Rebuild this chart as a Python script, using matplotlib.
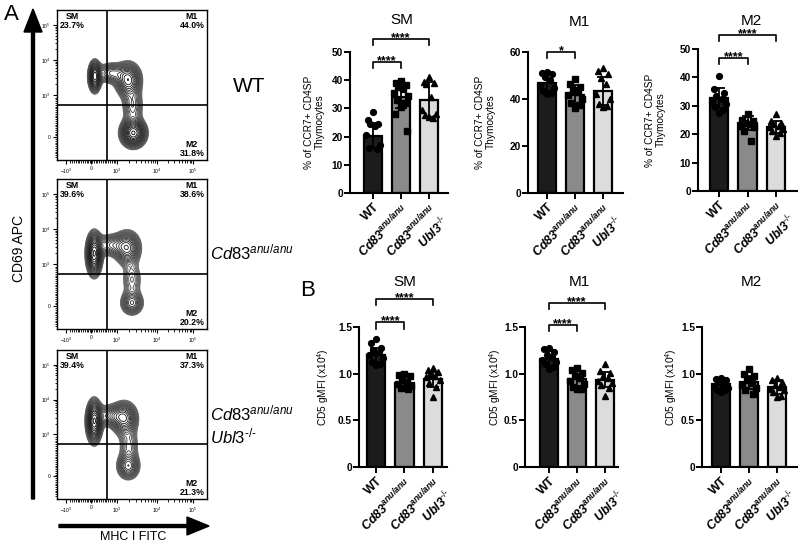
import numpy as np
import matplotlib
matplotlib.use("Agg")
import matplotlib.pyplot as plt
from matplotlib.patches import FancyArrow

plt.rcParams['font.family'] = ['Liberation Sans', 'DejaVu Sans']
plt.rcParams['mathtext.fontset'] = 'custom'
plt.rcParams['mathtext.rm'] = 'Liberation Sans'
plt.rcParams['mathtext.it'] = 'Liberation Sans:italic'
plt.rcParams['mathtext.bf'] = 'Liberation Sans:bold'
plt.rcParams['mathtext.sf'] = 'Liberation Sans:bold:italic'

# ---- data ----
samples = ["WT", "Cd83 anu/anu", "Cd83 anu/anu Ubl3-/-"]
quad_names = ["SM", "M1", "M2"]
quad_pct = [[23.7, 44.0, 31.8],
            [39.6, 38.6, 20.2],
            [39.4, 37.3, 21.3]]

# density blobs for the contour plots: (x, y, sx, sy, weight) in plot units
wt_blobs = [(0.252, 0.557, 0.023, 0.055, 1.0), (0.36, 0.58, 0.05, 0.038, 0.45),
            (0.475, 0.535, 0.047, 0.062, 0.8), (0.505, 0.36, 0.04, 0.07, 0.35),
            (0.509, 0.18, 0.045, 0.05, 1.2)]
cd83_blobs = [(0.248, 0.50, 0.028, 0.075, 1.4), (0.36, 0.56, 0.06, 0.042, 0.45),
              (0.47, 0.54, 0.048, 0.062, 0.8), (0.50, 0.33, 0.04, 0.07, 0.3),
              (0.50, 0.173, 0.042, 0.045, 0.6)]
ubl3_blobs = [(0.248, 0.52, 0.028, 0.075, 1.4), (0.36, 0.56, 0.06, 0.042, 0.45),
              (0.45, 0.54, 0.048, 0.062, 0.8), (0.48, 0.36, 0.04, 0.07, 0.3),
              (0.475, 0.22, 0.042, 0.05, 0.65)]

pct_mean = {"SM": [20.3, 34.0, 33.0], "M1": [46.7, 41.8, 43.5], "M2": [32.6, 24.0, 22.6]}
pct_sd = {"SM": [4.5, 4.0, 6.2], "M1": [3.5, 4.0, 6.0], "M2": [3.5, 2.5, 2.2]}
pct_pts = {
    "SM": [[28.8, 26.0, 24.6, 24.3, 23.8, 20.5, 17.0, 16.0, 15.5],
           [39.8, 39.0, 38.2, 37.5, 36.8, 35.5, 34.5, 33.0, 32.0, 30.5, 28.0, 22.0],
           [41.0, 39.5, 39.0, 38.5, 34.0, 29.5, 28.0, 27.5, 26.5, 27.0]],
    "M1": [[51.5, 51.0, 50.5, 49.5, 48.0, 46.0, 44.5, 43.5, 42.5, 42.0],
           [48.5, 46.5, 45.0, 44.0, 43.0, 41.5, 40.0, 38.5, 37.5, 36.0],
           [53.0, 52.0, 50.5, 49.0, 46.5, 42.0, 40.0, 38.0, 37.0, 36.5]],
    "M2": [[40.5, 36.0, 34.5, 33.5, 32.5, 31.5, 30.5, 29.5, 28.5, 27.5],
           [27.0, 25.0, 24.5, 24.0, 23.5, 23.0, 22.5, 21.0, 17.5],
           [27.0, 24.5, 24.0, 23.5, 23.0, 22.5, 22.0, 21.0, 20.5, 19.5]],
}
cd5_mean = {"SM": [1.20, 0.90, 0.94], "M1": [1.16, 0.946, 0.936], "M2": [0.886, 0.91, 0.857]}
cd5_sd = {"SM": [0.08, 0.07, 0.08], "M1": [0.08, 0.08, 0.08], "M2": [0.05, 0.07, 0.07]}
cd5_pts = {
    "SM": [[1.37, 1.33, 1.27, 1.25, 1.23, 1.20, 1.17, 1.13, 1.10, 1.09],
           [1.00, 0.99, 0.97, 0.93, 0.91, 0.89, 0.87, 0.85, 0.84],
           [1.06, 1.04, 1.02, 1.00, 0.98, 0.96, 0.93, 0.90, 0.86, 0.75]],
    "M1": [[1.27, 1.26, 1.23, 1.20, 1.18, 1.15, 1.12, 1.10, 1.07, 1.05],
           [1.06, 1.04, 1.01, 0.98, 0.95, 0.92, 0.89, 0.86, 0.84, 0.84],
           [1.10, 1.03, 1.01, 0.98, 0.95, 0.92, 0.90, 0.88, 0.85, 0.76]],
    "M2": [[0.95, 0.94, 0.93, 0.91, 0.89, 0.87, 0.85, 0.83, 0.82, 0.80],
           [1.05, 1.00, 0.97, 0.93, 0.90, 0.88, 0.85, 0.82, 0.78],
           [0.95, 0.93, 0.91, 0.88, 0.86, 0.84, 0.82, 0.80, 0.76, 0.75]],
}
pct_sig = {"SM": [(0, 1, "****"), (0, 2, "****")], "M1": [(0, 1, "*")],
           "M2": [(0, 1, "****"), (0, 2, "****")]}
cd5_sig = {"SM": [(0, 1, "****"), (0, 2, "****")], "M1": [(0, 1, "****"), (0, 2, "****")],
           "M2": []}

# ---- figure ----
W, H = 800, 546
fig = plt.figure(figsize=(8, 5.46), dpi=100)


def px(l, t, r, b):
    return [l / W, 1 - b / H, (r - l) / W, (b - t) / H]


bg = fig.add_axes([0, 0, 1, 1])
bg.set_xlim(0, W)
bg.set_ylim(H, 0)
bg.axis('off')

# ---- panel A: contour plots ----
flow_boxes = [(57, 10, 207, 160), (57, 179, 207, 329), (57, 350, 207, 499)]
all_blobs = [wt_blobs, cd83_blobs, ubl3_blobs]
gx, gy = np.meshgrid(np.linspace(0, 1, 260), np.linspace(0, 1, 260))

fx_major = [0.06, 0.227, 0.4, 0.667, 0.907]
fx_lab = ['$-10^3$', '0', '$10^3$', '$10^4$', '$10^5$']
fy_major = [0.153, 0.433, 0.667, 0.9]
fy_lab = ['0', '$10^3$', '$10^4$', '$10^5$']
dec = np.log10(np.arange(2, 10))
fx_minor = list(np.arange(0.09, 0.39, 0.012)) + list(0.4 + 0.267 * dec) + list(0.667 + 0.24 * dec)
fy_minor = list(np.arange(0.02, 0.42, 0.012)) + list(0.433 + 0.234 * dec) + list(0.667 + 0.233 * dec)

for i, (bx, blobs) in enumerate(zip(flow_boxes, all_blobs)):
    ax = fig.add_axes(px(*bx))
    ax.set_facecolor('none')
    z = np.zeros_like(gx)
    for cx, cy, sx, sy, w in blobs:
        z += w * np.exp(-((gx - cx) ** 2 / (2 * sx ** 2) + (gy - cy) ** 2 / (2 * sy ** 2)))
    lv = np.geomspace(0.08, 0.97, 22) * z.max()
    cols = [str(c) for c in np.linspace(0.4, 0.0, len(lv))]
    ax.contour(gx, gy, z, levels=lv, colors=cols, linewidths=0.6)
    ax.axvline(0.333, color='k', lw=1.2)
    ax.axhline(0.37, color='k', lw=1.2)
    ax.set_xlim(0, 1)
    ax.set_ylim(0, 1)
    ax.set_xticks(fx_major)
    ax.set_xticklabels(fx_lab)
    ax.set_yticks(fy_major)
    ax.set_yticklabels(fy_lab)
    ax.set_xticks(fx_minor, minor=True)
    ax.set_yticks(fy_minor, minor=True)
    ax.tick_params(which='major', labelsize=3.6, length=3, width=0.8, pad=1.5)
    ax.tick_params(which='minor', length=1.8, width=0.6)
    for s in ax.spines.values():
        s.set_linewidth(1.0)
    p = quad_pct[i]
    ax.text(0.1, 0.985, "SM\n%.1f%%" % p[0], transform=ax.transAxes, ha='center', va='top',
            fontsize=6.3, fontweight='bold', linespacing=0.9)
    ax.text(0.9, 0.985, "M1\n%.1f%%" % p[1], transform=ax.transAxes, ha='center', va='top',
            fontsize=6.3, fontweight='bold', linespacing=0.9)
    ax.text(0.9, 0.015, "M2\n%.1f%%" % p[2], transform=ax.transAxes, ha='center', va='bottom',
            fontsize=6.3, fontweight='bold', linespacing=0.9)

bg.add_patch(FancyArrow(33, 499, 0, -490, width=3, head_width=18, head_length=23,
                        length_includes_head=True, color='k'))
bg.add_patch(FancyArrow(59, 526, 150, 0, width=3, head_width=18, head_length=22,
                        length_includes_head=True, color='k'))
bg.text(11, 15, "A", fontsize=16, ha='center', va='center')
bg.text(308, 290, "B", fontsize=16, ha='center', va='center')
bg.text(19, 248, "CD69 APC", fontsize=10, rotation=90, ha='center', va='center')
bg.text(133, 537, "MHC I FITC", fontsize=9, ha='center', va='center')
bg.text(233, 87, "WT", fontsize=15, ha='left', va='center')
bg.text(210, 252, r"$\mathit{Cd83}^{anu/anu}$", fontsize=12, ha='left', va='center')
bg.text(210, 425, r"$\mathit{Cd83}^{anu/anu}$" + "\n" + r"$\mathit{Ubl3}^{\text{-/-}}$",
        fontsize=12, ha='left', va='center', linespacing=1.2)

# ---- bar charts ----
bar_cols = ['#1c1c1c', '#8a8a8a', '#dcdcdc']
markers = ['o', 's', '^']
jit = [0.0, -0.18, 0.18, -0.09, 0.09, -0.24, 0.24, -0.13, 0.13, 0.0, -0.2, 0.2]
xlab = ["WT", r"$\mathsf{Cd83}^{\mathsf{anu/anu}}$",
        r"$\mathsf{Cd83}^{\mathsf{anu/anu}}$" + "\n" + r"$\mathsf{Ubl3}^{\text{-/-}}$"]

# key, row, box (px), xlim, ymax, title pos, ylabel pos, bracket levels (inner, outer)
layout = [
    ("SM", 0, (350, 52, 448, 193), (-0.82, 2.68), 50, (402, 20), (314, 122), (46.5, 54.6)),
    ("M1", 0, (528, 52, 623, 193), (-0.68, 2.71), 60, (579, 22), (485, 122), (60.0, 70.0)),
    ("M2", 0, (698, 49, 797, 191), (-0.74, 2.74), 50, (751, 21), (655, 120), (46.8, 54.9)),
    ("SM", 1, (359, 327, 447, 467), (-0.6, 2.5), 1.5, (405, 282), (323, 387), (1.55, 1.80)),
    ("M1", 1, (525, 327, 618, 467), (-0.86, 2.46), 1.5, (579, 282), (495, 387), (1.52, 1.76)),
    ("M2", 1, (702, 327, 797, 467), (-0.68, 2.71), 1.5, (751, 282), (671, 387), (1.5, 1.8)),
]

for key, row, bx, xl, ymax, tpos, lpos, blev in layout:
    ax = fig.add_axes(px(*bx))
    ax.set_facecolor('none')
    if row == 0:
        means, sds, pts, sigs = pct_mean[key], pct_sd[key], pct_pts[key], pct_sig[key]
        yt = [0, 20, 40, 60] if ymax == 60 else [0, 10, 20, 30, 40, 50]
        ytl = [str(v) for v in yt]
        ylab = "% of CCR7+ CD4SP\nThymocytes"
    else:
        means, sds, pts, sigs = cd5_mean[key], cd5_sd[key], cd5_pts[key], cd5_sig[key]
        yt = [0, 0.5, 1.0, 1.5]
        ytl = ['0', '0.5', '1.0', '1.5']
        ylab = "CD5 gMFI (x10$^4$)"
    x = np.arange(3)
    ax.bar(x, means, width=0.64, color=bar_cols, edgecolor='k', linewidth=1.6, zorder=2)
    for j in range(3):
        n = len(pts[j])
        ax.plot(x[j] + np.array(jit[:n]), pts[j], ls='none', marker=markers[j], ms=4.2,
                color='k', mec='k', zorder=3)
    ax.errorbar(x, means, yerr=sds, fmt='none', ecolor='k', elinewidth=1.3, capsize=4,
                capthick=1.3, zorder=4)
    ax.set_xlim(*xl)
    ax.set_ylim(0, ymax)
    ax.set_yticks(yt)
    ax.set_yticklabels(ytl, fontweight='bold')
    ax.set_xticks(x)
    ax.set_xticklabels(xlab, rotation=45, ha='right', va='top', rotation_mode='anchor',
                       fontsize=9, fontweight='bold', linespacing=1.0)
    ax.tick_params(axis='y', labelsize=7.3, length=4, width=1.4, pad=1)
    ax.tick_params(axis='x', length=4, width=1.4, pad=2)
    for s in ['top', 'right']:
        ax.spines[s].set_visible(False)
    for s in ['left', 'bottom']:
        ax.spines[s].set_linewidth(1.5)
    drop = ymax * 0.045
    for (a, b, txt), lev in zip(sigs, blev):
        ax.plot([a, a, b, b], [lev - drop, lev, lev, lev - drop], color='k', lw=1.2,
                clip_on=False)
        ax.annotate(txt, ((a + b) / 2, lev), xytext=(0, -1.5), textcoords='offset points',
                    ha='center', va='baseline', fontsize=9, fontweight='bold',
                    annotation_clip=False)
    bg.text(tpos[0], tpos[1], key, fontsize=11, ha='center', va='center')
    bg.text(lpos[0], lpos[1], ylab, fontsize=7.3, rotation=90, ha='center', va='center',
            linespacing=1.1)

fig.savefig("out.png", dpi=100)
